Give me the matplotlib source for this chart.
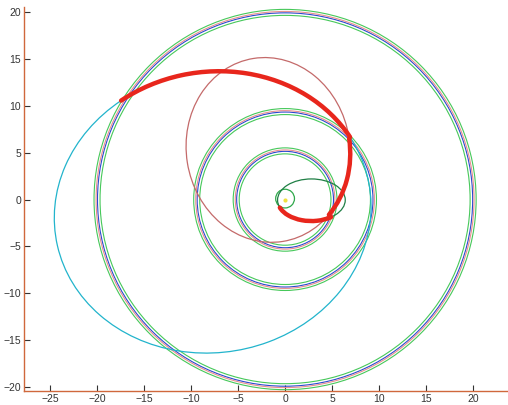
import numpy as np
import matplotlib
matplotlib.use("Agg")
import matplotlib.pyplot as plt
from matplotlib.patches import Arc, Circle, Ellipse

# planet orbit rings (AU-like units), each drawn as a small band of circles
ring_radii = [5.2, 9.4, 20.0]
band_offsets = [-0.32, -0.05, 0.1, 0.32]
band_colors = ["#46c85a", "#2a48d0", "#e89090", "#46c85a"]
earth_orbit = (0.0, 0.1, 1.0)  # cx, cy, r

# transfer orbit ellipses: cx, cy, width, height, angle
leg1_orbit = (2.8, -0.05, 7.2, 4.5, 0.0)
leg2_orbit = (-1.8, 5.3, 17.4, 19.8, 9.0)
leg3_orbit = (-7.7, -1.35, 33.8, 30.0, 10.0)

# encounter points: departure, flyby 1, flyby 2, arrival
encounter_x = [-0.3, 4.86, 6.6, -17.3]
encounter_y = [-0.8, -1.84, 6.5, 10.4]

x_ticks = [-25, -20, -15, -10, -5, 0, 5, 10, 15, 20]
y_ticks = [-20, -15, -10, -5, 0, 5, 10, 15, 20]


def polar_angle(orbit, px, py):
    cx, cy, _, _, ang = orbit
    return np.degrees(np.arctan2(py - cy, px - cx)) - ang


fig = plt.figure(figsize=(5.08, 4.05), dpi=100)
ax = fig.add_axes([0.0472, 0.0346, 0.953, 0.948])

for r in ring_radii:
    for off, col in zip(band_offsets, band_colors):
        ax.add_patch(Circle((0, 0), r + off, fill=False, color=col, lw=0.8, zorder=2))

ax.add_patch(Circle(earth_orbit[:2], earth_orbit[2], fill=False, color="#2fa84a", lw=0.9, zorder=3))

cx, cy, w, h, a = leg1_orbit
ax.add_patch(Ellipse((cx, cy), w, h, angle=a, fill=False, color="#1f7f45", lw=0.9, zorder=3))
cx, cy, w, h, a = leg2_orbit
ax.add_patch(Ellipse((cx, cy), w, h, angle=a, fill=False, color="#c46a6a", lw=0.9, zorder=3))

# leftover part of the final orbit (after arrival, back round to flyby 2)
t_start = polar_angle(leg3_orbit, encounter_x[3], encounter_y[3])
t_end = polar_angle(leg3_orbit, encounter_x[2], encounter_y[2])
if t_end < t_start:
    t_end += 360
cx, cy, w, h, a = leg3_orbit
ax.add_patch(Arc((cx, cy), w, h, angle=a, theta1=t_start, theta2=t_end,
                 color="#22b4cc", lw=0.9, zorder=3))

# thick red trajectory, one arc per leg
for i, orbit in enumerate([leg1_orbit, leg2_orbit, leg3_orbit]):
    t1 = polar_angle(orbit, encounter_x[i], encounter_y[i])
    t2 = polar_angle(orbit, encounter_x[i + 1], encounter_y[i + 1])
    cx, cy, w, h, a = orbit
    ax.add_patch(Arc((cx, cy), w, h, angle=a, theta1=t1, theta2=t2,
                     color="#e8261c", lw=3.2, zorder=5, capstyle="round"))

ax.plot([0], [0], "o", color="#f0e040", ms=3, mec="none", zorder=6)

ax.set_xlim(-27.77, 23.72)
ax.set_ylim(-20.46, 20.57)
ax.set_xticks(x_ticks)
ax.set_yticks(y_ticks)
for s in ["top", "right"]:
    ax.spines[s].set_visible(False)
for s in ["left", "bottom"]:
    ax.spines[s].set_color("#d0683c")
    ax.spines[s].set_linewidth(1.0)
ax.tick_params(direction="in", length=4, width=0.8, color="#333333",
               labelsize=7.5, labelcolor="#333333", pad=2)
for lab in ax.get_xticklabels() + ax.get_yticklabels():
    lab.set_family("Liberation Sans")

fig.savefig("out.png", dpi=100)
